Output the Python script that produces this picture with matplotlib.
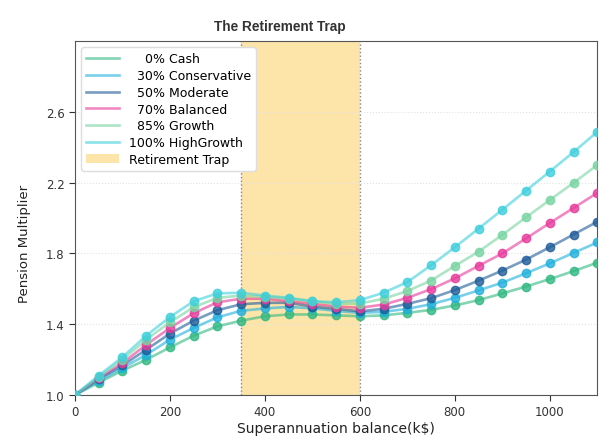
import numpy as np
import matplotlib
matplotlib.use("Agg")
import matplotlib.pyplot as plt
from matplotlib.patches import Patch

balance = np.arange(0, 1101, 50)

cash = [1.0, 1.07, 1.138, 1.199, 1.269, 1.335, 1.388, 1.42, 1.445, 1.455, 1.455, 1.45,
        1.445, 1.45, 1.464, 1.481, 1.506, 1.536, 1.574, 1.613, 1.655, 1.70, 1.748]
conservative = [1.0, 1.08, 1.153, 1.227, 1.313, 1.379, 1.439, 1.476, 1.489, 1.498, 1.49, 1.475,
                1.464, 1.47, 1.487, 1.513, 1.549, 1.591, 1.635, 1.688, 1.744, 1.803, 1.862]
moderate = [1.0, 1.09, 1.167, 1.256, 1.347, 1.42, 1.479, 1.513, 1.521, 1.521, 1.50, 1.487,
            1.473, 1.487, 1.515, 1.547, 1.593, 1.646, 1.703, 1.765, 1.835, 1.907, 1.979]
balanced = [1.0, 1.095, 1.18, 1.284, 1.379, 1.462, 1.524, 1.544, 1.544, 1.53, 1.515, 1.50,
            1.493, 1.511, 1.549, 1.598, 1.659, 1.73, 1.80, 1.885, 1.972, 2.057, 2.142]
growth = [1.0, 1.10, 1.199, 1.313, 1.411, 1.496, 1.549, 1.562, 1.555, 1.545, 1.53, 1.515,
          1.517, 1.544, 1.587, 1.647, 1.729, 1.81, 1.905, 2.004, 2.102, 2.199, 2.30]
high_growth = [1.0, 1.11, 1.214, 1.335, 1.441, 1.53, 1.574, 1.578, 1.562, 1.549, 1.53, 1.524,
               1.536, 1.578, 1.638, 1.733, 1.835, 1.94, 2.047, 2.155, 2.263, 2.373, 2.487]

labels = ["    0% Cash", "  30% Conservative", "  50% Moderate", "  70% Balanced",
          "  85% Growth", "100% HighGrowth"]
series = [cash, conservative, moderate, balanced, growth, high_growth]
colors = ["#2fb880", "#1fb0dd", "#1f5c99", "#e8399b", "#77d4a0", "#3ccfdc"]

trap_start, trap_end = 350, 600

fig = plt.figure(figsize=(6.13, 4.39), dpi=100)
ax = fig.add_axes([0.1223, 0.098, 0.852, 0.806])

ax.axvspan(trap_start, trap_end, color="#fde4a9", zorder=0, lw=0)
ax.axvline(trap_start, color="#888888", ls=":", lw=1, zorder=1)
ax.axvline(trap_end, color="#888888", ls=":", lw=1, zorder=1)

handles = []
for vals, lab, c in zip(series, labels, colors):
    line, = ax.plot(balance, vals, color=c, lw=1.9, alpha=0.6, label=lab, zorder=3)
    ax.plot(balance, vals, ls="none", marker="o", ms=6, color=c, alpha=0.8, zorder=4)
    handles.append(line)
handles.append(Patch(facecolor="#fde4a9", label="Retirement Trap"))

ax.set_xlim(0, 1100)
ax.set_ylim(1.0, 3.0)
yt = np.arange(1.0, 2.9, 0.4)
ax.set_yticks(yt)
ax.set_yticklabels([f"{v:.1f}" for v in yt])
ax.set_xticks([0, 200, 400, 600, 800, 1000])
ax.tick_params(labelsize=8.5, colors="#333333", length=4)
ax.grid(axis="y", ls=":", color="#e2e2e2", lw=0.8, zorder=0)
for sp in ax.spines.values():
    sp.set_color("#555555")

ax.set_xlabel("Superannuation balance(k$)", fontsize=10, color="#222222", labelpad=2)
ax.set_ylabel("Pension Multiplier", fontsize=9.5, color="#222222")
ax.yaxis.set_label_coords(-0.085, 0.43)

fig.text(0.457, 0.938, "The Retirement Trap", ha="center", va="center",
         fontsize=9.8, fontweight="bold", color="#333333",
         family=["Liberation Sans Narrow", "Liberation Sans"])

ax.legend(handles=handles, loc="upper left", fontsize=9, framealpha=1,
          edgecolor="#dddddd", handlelength=2.6, labelspacing=0.3)

fig.savefig("out.png", dpi=100)
